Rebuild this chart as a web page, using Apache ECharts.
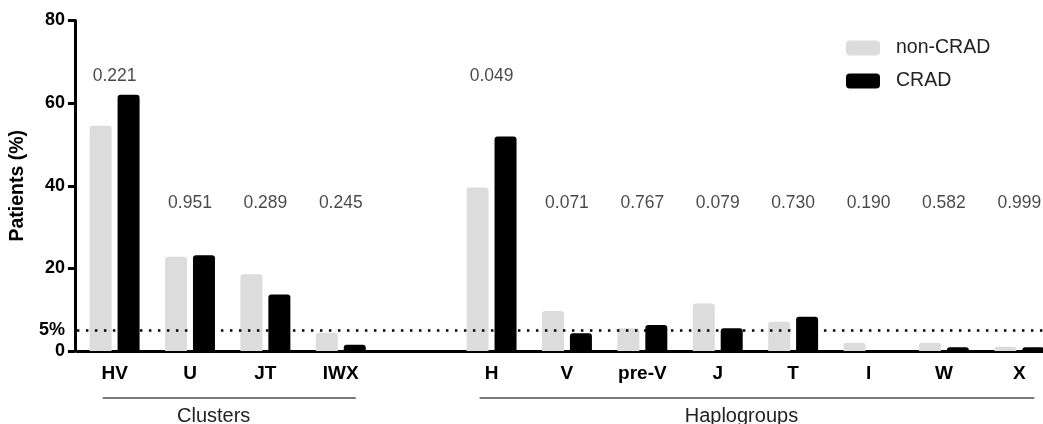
<!DOCTYPE html>
<html>
<head>
<meta charset="utf-8">
<script src="https://cdn.jsdelivr.net/npm/echarts@6/dist/echarts.min.js"></script>
<style>
  html, body { margin: 0; padding: 0; background: #fff; overflow: hidden; width: 1043px; height: 424px; }
  #chart { width: 1070px; height: 424px; }
</style>
</head>
<body>
<div id="chart"></div>
<script>
// ---- data ----
const categories = ['HV', 'U', 'JT', 'IWX', '', 'H', 'V', 'pre-V', 'J', 'T', 'I', 'W', 'X'];
const nonCRAD = [54.5, 22.8, 18.6, 4.4, null, 39.6, 9.7, 5.5, 11.5, 7.1, 2.0, 2.0, 1.0];
const CRAD    = [62.0, 23.2, 13.7, 1.5, null, 51.9, 4.3, 6.3, 5.5, 8.3, 0, 0.9, 0.9];
const pValues = ['0.221', '0.951', '0.289', '0.245', null, '0.049', '0.071', '0.767', '0.079', '0.730', '0.190', '0.582', '0.999'];
const yTicks = [0, 20, 40, 60, 80];
const refLine = 5;
const groups = [
  { name: 'Clusters', from: 'HV', to: 'IWX' },
  { name: 'Haplogroups', from: 'H', to: 'X' }
];

// ---- chart ----
const FONT = '"Liberation Sans", Arial, Helvetica, sans-serif';
const chart = echarts.init(document.getElementById('chart'), null, { renderer: 'canvas' });

const labelPoints = categories.map((c, i) => {
  if (pValues[i] == null) return null;
  const top = Math.max(nonCRAD[i] || 0, CRAD[i] || 0);
  const y = top > 40 ? 66.6 : 35.8;
  return { value: [c, y], label: { formatter: pValues[i] } };
}).filter(d => d);

const option = {
  animation: false,
  backgroundColor: '#fff',
  textStyle: { fontFamily: FONT },
  grid: { left: 74, top: 20.5, width: 983, height: 330.5, containLabel: false },
  legend: {
    orient: 'vertical',
    left: 846,
    top: 38,
    padding: 0,
    itemWidth: 34,
    itemHeight: 15,
    itemGap: 13,
    icon: 'roundRect',
    textStyle: { fontFamily: FONT, fontSize: 19.5, color: '#222', padding: [0, 0, 0, 11] },
    data: ['non-CRAD', 'CRAD'],
    selectedMode: false
  },
  xAxis: {
    type: 'category',
    data: categories,
    axisLine: { lineStyle: { color: '#000', width: 3 } },
    axisTick: { alignWithLabel: true, length: 8, lineStyle: { color: '#000', width: 3 } },
    axisLabel: { color: '#000', fontWeight: 'bold', fontSize: 19, margin: 13, fontFamily: FONT, interval: 0 },
    splitLine: { show: false }
  },
  yAxis: {
    type: 'value',
    min: 0,
    max: 80,
    offset: 2,
    name: 'Patients (%)',
    nameLocation: 'middle',
    nameGap: 40,
    nameTextStyle: { color: '#000', fontWeight: 'bold', fontSize: 19.5, fontFamily: FONT },
    axisLine: { show: true, lineStyle: { color: '#000', width: 3 } },
    axisTick: { show: true, length: 7, customValues: yTicks, lineStyle: { color: '#000', width: 3 } },
    axisLabel: {
      color: '#000', fontWeight: 'bold', fontSize: 18, margin: 10, fontFamily: FONT,
      customValues: [0, refLine, 20, 40, 60, 80],
      formatter: v => (v === refLine ? refLine + '%' : String(v))
    },
    splitLine: { show: false }
  },
  series: [
    {
      name: 'non-CRAD',
      type: 'bar',
      z: 3,
      barWidth: 22,
      barGap: '27%',
      itemStyle: { color: '#dcdcdc', borderRadius: [3, 3, 0, 0] },
      data: nonCRAD
    },
    {
      name: 'CRAD',
      type: 'bar',
      z: 3,
      barWidth: 22,
      itemStyle: { color: '#000', borderRadius: [3, 3, 0, 0] },
      data: CRAD
    },
    {
      name: 'p',
      type: 'scatter',
      z: 1,
      symbolSize: 0,
      silent: true,
      label: {
        show: true, position: 'inside', color: '#1a1a1a', fontSize: 17.5, fontFamily: FONT
      },
      data: labelPoints,
      markLine: {
        silent: true,
        symbol: 'none',
        label: { show: false },
        lineStyle: { color: '#000', width: 2.5, type: [2.5, 6.5] },
        data: [{ yAxis: refLine }]
      }
    }
  ]
};
chart.setOption(option);

// group brackets under the axis, placed from the axis scale
const gfx = [];
groups.forEach(g => {
  const x1 = chart.convertToPixel({ xAxisIndex: 0 }, g.from);
  const x2 = chart.convertToPixel({ xAxisIndex: 0 }, g.to);
  const lineY = chart.convertToPixel({ yAxisIndex: 0 }, 0) + 47;
  gfx.push({
    type: 'line',
    shape: { x1: x1 - 12, y1: lineY, x2: x2 + 15, y2: lineY },
    style: { stroke: '#7a7a7a', lineWidth: 2 }
  });
  gfx.push({
    type: 'text',
    x: (x1 + x2) / 2 - 14,
    y: lineY + 18,
    style: {
      text: g.name, fill: '#222', font: '20px ' + FONT,
      textAlign: 'center', textVerticalAlign: 'middle'
    }
  });
});
chart.setOption({ graphic: gfx });
</script>
</body>
</html>
